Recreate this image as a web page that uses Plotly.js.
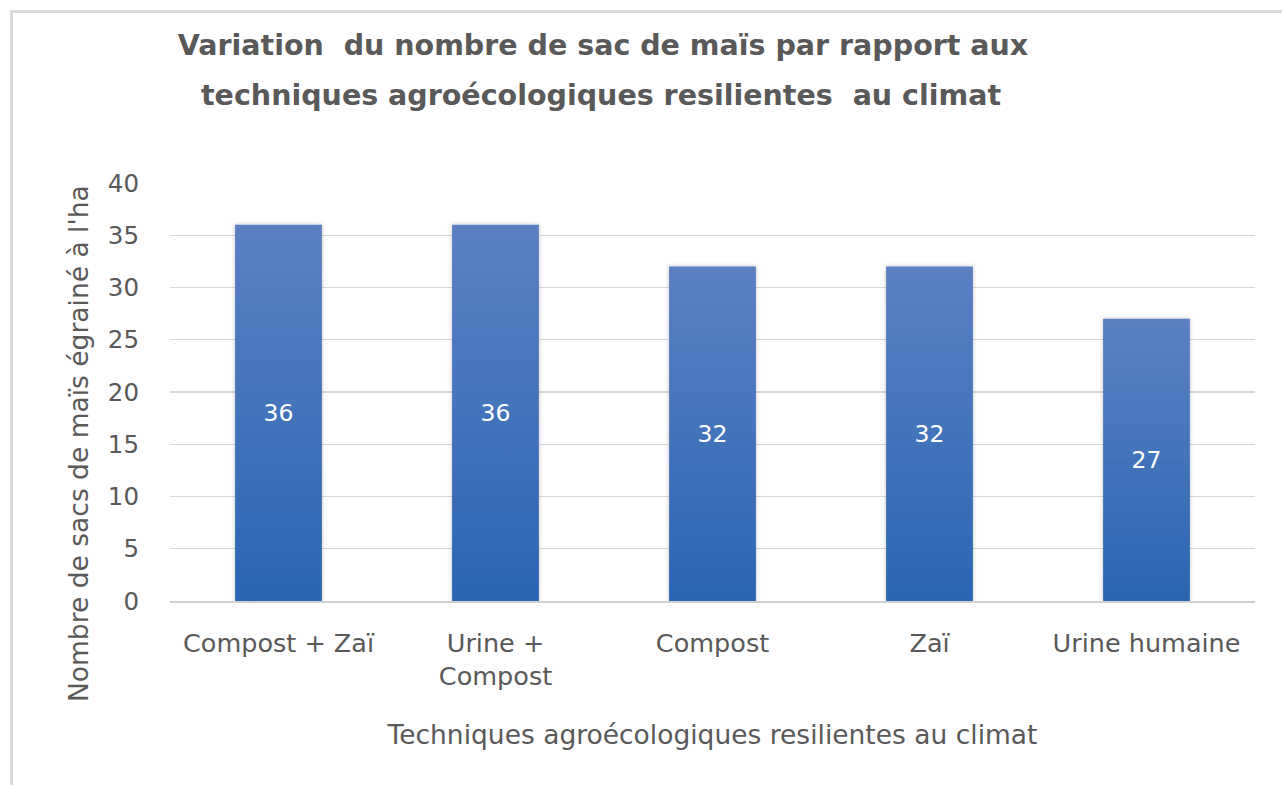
<!DOCTYPE html>
<html><head><meta charset="utf-8">
<script src="https://cdn.plot.ly/plotly-3.0.1.min.js"></script>
<style>
html,body{margin:0;padding:0;background:#fff;}
#chart{width:1282px;height:785px;position:absolute;left:0;top:0;}
#frame{position:absolute;left:10px;top:10px;width:1272px;height:775px;border-top:3px solid #dadada;border-left:3px solid #dadada;pointer-events:none;box-sizing:border-box;}
</style></head><body>
<div id="chart"></div><div id="frame"></div>
<script>
const categories = ["Compost + Zaï", "Urine +<br>Compost", "Compost", "Zaï", "Urine humaine"];
const sacs = [36, 36, 32, 32, 27];
const yTickVals = [0, 5, 10, 15, 20, 25, 30, 35, 40];
const titleLine1 = "Variation  du nombre de sac de maïs par rapport aux";
const titleLine2 = "techniques agroécologiques resilientes  au climat";
const xTitle = "Techniques agroécologiques resilientes au climat";
const yTitle = "Nombre de sacs de maïs égrainé à l'ha";

const FONT = "DejaVu Sans, Open Sans, sans-serif";
const GREY = "#595959";

const trace = {
  type: "bar",
  x: categories,
  y: sacs,
  text: sacs.map(String),
  textposition: "inside",
  insidetextanchor: "middle",
  textangle: 0,
  textfont: {family: FONT, size: 23.5, color: "#ffffff"},
  marker: {color: "#4472c4", line: {width: 0}},
  hoverinfo: "x+y"
};

const layout = {
  width: 1282, height: 785,
  margin: {l: 170, r: 27, t: 183, b: 184},
  paper_bgcolor: "#ffffff", plot_bgcolor: "#ffffff",
  showlegend: false,
  bargap: 0.6,
  title: {
    text: titleLine1,
    font: {family: FONT, size: 28.5, color: GREY, weight: "bold"},
    x: 603 / 1282, xref: "container", xanchor: "center",
    y: 1 - 45 / 785, yref: "container", yanchor: "middle"
  },
  xaxis: {
    type: "category",
    showgrid: false,
    showline: true, linecolor: "#d0d0d0", linewidth: 2,
    ticks: "", ticklabelstandoff: 18,
    tickfont: {family: FONT, size: 25.5, color: GREY},
    title: {text: xTitle, font: {family: FONT, size: 26.5, color: GREY}, standoff: 36},
    fixedrange: true
  },
  yaxis: {
    range: [0, 40],
    tickvals: yTickVals,
    showgrid: true, gridcolor: "#d9d9d9", gridwidth: 1.3,
    zeroline: false, showline: false,
    ticks: "", ticklabelstandoff: 30,
    tickfont: {family: FONT, size: 24.5, color: GREY},
    fixedrange: true
  },
  annotations: [
    {text: titleLine2, xref: "paper", yref: "paper",
     x: (601 - 170) / 1085, y: (601 - 95) / 418, xanchor: "center", yanchor: "middle",
     showarrow: false, font: {family: FONT, size: 28.5, color: GREY, weight: "bold"}},
    {text: yTitle, xref: "paper", yref: "paper", textangle: -90,
     x: (78 - 170) / 1085, y: (601 - 444) / 418, xanchor: "center", yanchor: "middle",
     showarrow: false, font: {family: FONT, size: 26.5, color: GREY}}
  ]
};

Plotly.newPlot("chart", [trace], layout, {displayModeBar: false, staticPlot: true}).then(function (gd) {
  const svg = gd.querySelector("svg.main-svg");
  const NS = "http://www.w3.org/2000/svg";
  let defs = svg.querySelector("defs");
  if (!defs) { defs = document.createElementNS(NS, "defs"); svg.insertBefore(defs, svg.firstChild); }
  const grad = document.createElementNS(NS, "linearGradient");
  grad.setAttribute("id", "barGrad");
  grad.setAttribute("x1", "0"); grad.setAttribute("y1", "0");
  grad.setAttribute("x2", "0"); grad.setAttribute("y2", "1");
  [["0", "#5b80c2"], ["0.55", "#4172b9"], ["1", "#2a65b0"]].forEach(function (s) {
    const st = document.createElementNS(NS, "stop");
    st.setAttribute("offset", s[0]); st.setAttribute("stop-color", s[1]);
    grad.appendChild(st);
  });
  defs.appendChild(grad);
  const filt = document.createElementNS(NS, "filter");
  filt.setAttribute("id", "barShadow");
  filt.setAttribute("x", "-20%"); filt.setAttribute("y", "-5%");
  filt.setAttribute("width", "140%"); filt.setAttribute("height", "110%");
  const ds = document.createElementNS(NS, "feDropShadow");
  ds.setAttribute("dx", "0"); ds.setAttribute("dy", "0");
  ds.setAttribute("stdDeviation", "2"); ds.setAttribute("flood-color", "#000");
  ds.setAttribute("flood-opacity", "0.25");
  filt.appendChild(ds);
  defs.appendChild(filt);
  gd.querySelectorAll(".barlayer .point path").forEach(function (p) {
    p.style.fill = "url(#barGrad)";
    p.setAttribute("filter", "url(#barShadow)");
  });
});
</script>
</body></html>
